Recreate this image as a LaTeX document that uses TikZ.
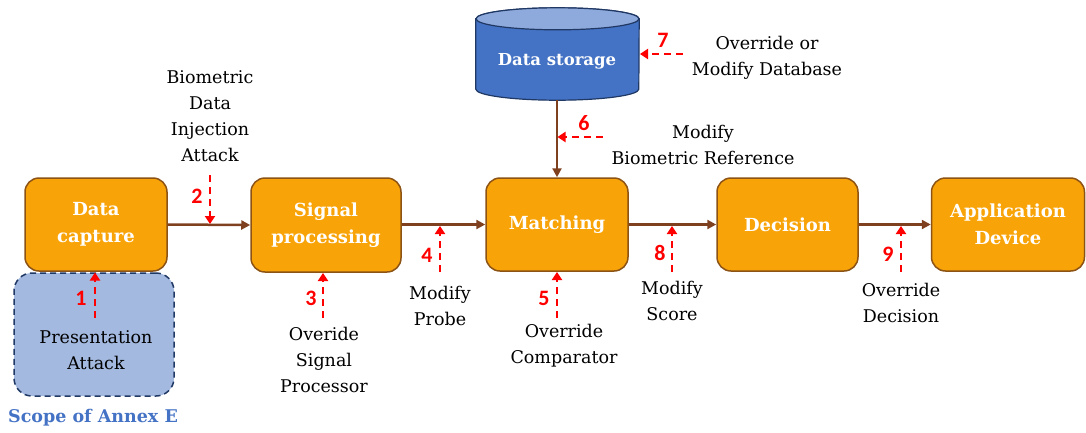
\documentclass[tikz,border=0pt]{standalone}
\usepackage{fontspec}
\setmainfont{DejaVu Serif}
\newfontfamily\numfont{Carlito}
\usetikzlibrary{arrows.meta}
\definecolor{boxfill}{HTML}{F8A308}
\definecolor{boxborder}{HTML}{8C5314}
\definecolor{flowc}{HTML}{7F4020}
\definecolor{pafill}{HTML}{A3B9E0}
\definecolor{navy}{HTML}{203864}
\definecolor{dsblue}{HTML}{4472C4}
\definecolor{dstop}{HTML}{8EA9DB}
\definecolor{atk}{HTML}{FF0000}
\tikzset{
  proc/.style={draw=boxborder, line width=1.5pt, fill=boxfill, rounded corners=14pt,
    text=white, font=\bfseries\fontsize{18}{27}\selectfont, align=center, inner sep=0pt},
  flow/.style={draw=flowc, line width=2.5pt, -{Triangle[length=9pt,width=9pt]}},
  attack/.style={draw=atk, line width=2.8pt, dash pattern=on 7pt off 5pt,
    -{Triangle[length=8pt,width=10pt]}},
  num/.style={text=atk, font=\numfont\bfseries\fontsize{22}{24}\selectfont, inner sep=0pt},
  lbl/.style={align=center, font=\fontsize{17.5}{26}\selectfont, inner sep=0pt},
}
\begin{document}
\begin{tikzpicture}[x=1pt,y=-1pt]
\useasboundingbox (0,0) rectangle (1086,432);

% presentation attack scope box
\node[draw=navy, line width=1.5pt, dash pattern=on 6pt off 4pt, fill=pafill,
  rounded corners=18pt, minimum width=160pt, minimum height=123pt, inner sep=0pt] (pa) at (94,334.5) {};
\node[lbl] (patext) at (96,350.5) {Presentation\\Attack};
\node[font=\bfseries\fontsize{17.5}{20}\selectfont, text=dsblue, inner sep=0pt] (scope) at (93,418) {Scope of Annex E};

% process boxes
\node[proc, minimum width=142pt, minimum height=93pt] (dc) at (96,224.5) {Data\\capture};
\node[proc, minimum width=150pt, minimum height=94pt] (sp) at (326,225) {Signal\\processing};
\node[proc, minimum width=142pt, minimum height=93pt] (mt) at (557,224.5) {Matching};
\node[proc, minimum width=141pt, minimum height=93pt] (dec) at (787.5,224.5) {Decision};
\node[proc, minimum width=153pt, minimum height=93pt] (app) at (1008,224.5) {Application\\Device};

% data storage cylinder
\node[minimum width=163pt, minimum height=92pt, inner sep=0pt] (ds) at (557.5,54) {};
\fill[dsblue, draw=navy, line width=1.2pt] ([yshift=-11pt]ds.north west) -- ([yshift=11pt]ds.south west)
  arc[start angle=180, end angle=360, x radius=81.5pt, y radius=11pt]
  -- ([yshift=-11pt]ds.north east)
  arc[start angle=0, end angle=180, x radius=81.5pt, y radius=11pt] -- cycle;
\draw[fill=dstop, draw=navy, line width=1.2pt] ([yshift=-11pt]ds.north) ellipse[x radius=81.5pt, y radius=11pt];
\node[text=white, font=\bfseries\fontsize{16.5}{20}\selectfont, inner sep=0pt] (dstext) at (557,61) {Data storage};

% flows
\draw[flow] (dc.east) -- (sp.west);
\draw[flow] (sp.east |- dc.east) -- (mt.west);
\draw[flow] (mt.east) -- (dec.west);
\draw[flow] (dec.east) -- (app.west);
\draw[flow] (ds.south -| mt.north) -- (mt.north);

% attack points
\coordinate (a1s) at (95,318);  \coordinate (a1e) at (95,272.5);
\coordinate (a2s) at (210,175); \coordinate (a2e) at (210,224);
\coordinate (a3s) at (323,318); \coordinate (a3e) at (323,273);
\coordinate (a4s) at (440,272); \coordinate (a4e) at (440,226);
\coordinate (a5s) at (557,318); \coordinate (a5e) at (557,272);
\coordinate (a6s) at (603,137); \coordinate (a6e) at (557.5,137);
\coordinate (a7s) at (683,54);  \coordinate (a7e) at (640,54);
\coordinate (a8s) at (672,272); \coordinate (a8e) at (672,226);
\coordinate (a9s) at (901,272); \coordinate (a9e) at (901,226);
\foreach \i in {1,...,9}{\draw[attack] (a\i s) -- (a\i e);}

\node[num] (n1) at (81,298) {1};
\node[num] (n2) at (197,196) {2};
\node[num] (n3) at (311,298) {3};
\node[num] (n4) at (427,255) {4};
\node[num] (n5) at (544,298) {5};
\node[num] (n6) at (584,123) {6};
\node[num] (n7) at (663,40) {7};
\node[num] (n8) at (660,253) {8};
\node[num] (n9) at (888,254) {9};

% labels
\node[lbl] (l2) at (210,116) {Biometric\\Data\\Injection\\Attack};
\node[lbl] (l3) at (324,360) {Overide\\Signal\\Processor};
\node[lbl] (l4) at (440,305.5) {Modify\\Probe};
\node[lbl] (l5) at (564,345.5) {Override\\Comparator};
\node[lbl] (l6) at (703,144.5) {Modify\\Biometric Reference};
\node[lbl] (l7) at (767,58) {Override or\\Modify Database};
\node[lbl] (l8) at (672,301) {Modify\\Score};
\node[lbl] (l9) at (901,303) {Override\\Decision};
\end{tikzpicture}
\end{document}
